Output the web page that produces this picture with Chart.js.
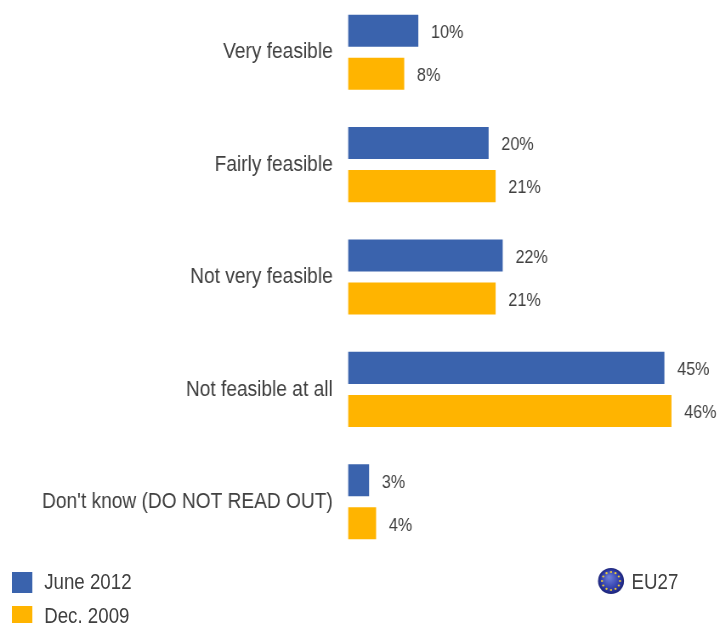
<!DOCTYPE html>
<html>
<head>
<meta charset="utf-8">
<title>Feasibility</title>
<script src="https://cdn.jsdelivr.net/npm/chart.js@4"></script>
<style>
    html, body { margin: 0; padding: 0; background: #fff; overflow: hidden; width: 717px; height: 623px; }
    /* the whole page is drawn wide and squeezed, which gives the narrow lettering */
    #stage { position: absolute; left: 0; top: 0; width: 844px; height: 623px; transform: scaleX(0.85); transform-origin: 0 0; }
    #chart { position: absolute; left: 0; top: -4px; }
    .key { position: absolute; font: 22px "Liberation Sans", Arial, sans-serif; color: #404040; line-height: 22px; white-space: nowrap; }
    .swatch { position: absolute; left: 14px; width: 24px; height: 21px; }
</style>
</head>
<body>
<div id="stage">
    <canvas id="chart" width="844" height="631"></canvas>
    <div id="legend"></div>
    <div class="key" style="left:743px;top:571px">EU27</div>
</div>
<script>
// 类别与数据
const categories = ['Very feasible', 'Fairly feasible', 'Not very feasible', 'Not feasible at all', "Don't know (DO NOT READ OUT)"];
const june2012 = [10, 20, 22, 45, 3];
const dec2009 = [8, 21, 21, 46, 4];
const seriesNames = ['June 2012', 'Dec. 2009'];
const seriesColors = ['#3A63AD', '#FFB400'];

const squeeze = 0.85;
const textColor = '#404040';

// 图例
const legendBox = document.getElementById('legend');
seriesNames.forEach(function (name, i) {
    const top = 572 + i * 34;
    const swatch = document.createElement('div');
    swatch.className = 'swatch';
    swatch.style.top = top + 'px';
    swatch.style.background = seriesColors[i];
    legendBox.appendChild(swatch);
    const label = document.createElement('div');
    label.className = 'key';
    label.style.left = '52px';
    label.style.top = (top - 1) + 'px';
    label.textContent = name;
    legendBox.appendChild(label);
});

// 柱子右侧的百分比
const valueLabels = {
    id: 'valueLabels',
    afterDatasetsDraw(chart) {
        const ctx = chart.ctx;
        ctx.save();
        ctx.font = '19px "Liberation Sans", Arial, sans-serif';
        ctx.fillStyle = textColor;
        ctx.textAlign = 'left';
        ctx.textBaseline = 'middle';
        chart.data.datasets.forEach(function (dataset, d) {
            chart.getDatasetMeta(d).data.forEach(function (bar, i) {
                ctx.fillText(dataset.data[i] + '%', bar.x + 15, bar.y + 2);
            });
        });
        ctx.restore();
    }
};

// 欧盟旗帜小圆标
const euBadge = {
    id: 'euBadge',
    afterDraw(chart) {
        const ctx = chart.ctx;
        const cx = 611 / squeeze;
        const cy = 585;
        const r = 13;
        ctx.save();
        ctx.translate(cx, cy);
        ctx.scale(1 / squeeze, 1);
        const fill = ctx.createRadialGradient(-2, -4, 1, 0, 0, r);
        fill.addColorStop(0, '#6A7CD8');
        fill.addColorStop(0.7, '#2F3CA8');
        fill.addColorStop(1, '#1C2478');
        ctx.fillStyle = fill;
        ctx.beginPath();
        ctx.arc(0, 0, r, 0, Math.PI * 2);
        ctx.fill();
        ctx.fillStyle = '#E8C93A';
        for (let i = 0; i < 12; i++) {
            const a = i * Math.PI / 6;
            ctx.beginPath();
            ctx.arc(Math.cos(a) * 9, Math.sin(a) * 9, 1.1, 0, Math.PI * 2);
            ctx.fill();
        }
        ctx.restore();
    }
};

new Chart(document.getElementById('chart').getContext('2d'), {
    type: 'bar',
    data: {
        labels: categories,
        datasets: [{
            label: seriesNames[0],
            data: june2012,
            backgroundColor: seriesColors[0]
        }, {
            label: seriesNames[1],
            data: dec2009,
            backgroundColor: seriesColors[1]
        }]
    },
    options: {
        indexAxis: 'y',
        responsive: false,
        animation: false,
        categoryPercentage: 0.766,
        barPercentage: 0.744,
        layout: { padding: { bottom: 69, right: 21 } },
        scales: {
            x: {
                display: false,
                min: 0,
                max: 50
            },
            y: {
                afterFit(scale) {
                    scale.width = 409.4;
                    // 标签不占用上下空间
                    scale.paddingTop = 0;
                    scale.paddingBottom = 0;
                },
                grid: { display: false, drawTicks: false },
                border: { display: false },
                ticks: {
                    color: textColor,
                    padding: 18,
                    font: { family: '"Liberation Sans", Arial, sans-serif', size: 22.5 }
                }
            }
        },
        plugins: {
            legend: { display: false },
            tooltip: { enabled: false }
        }
    },
    plugins: [valueLabels, euBadge]
});
</script>
</body>
</html>
